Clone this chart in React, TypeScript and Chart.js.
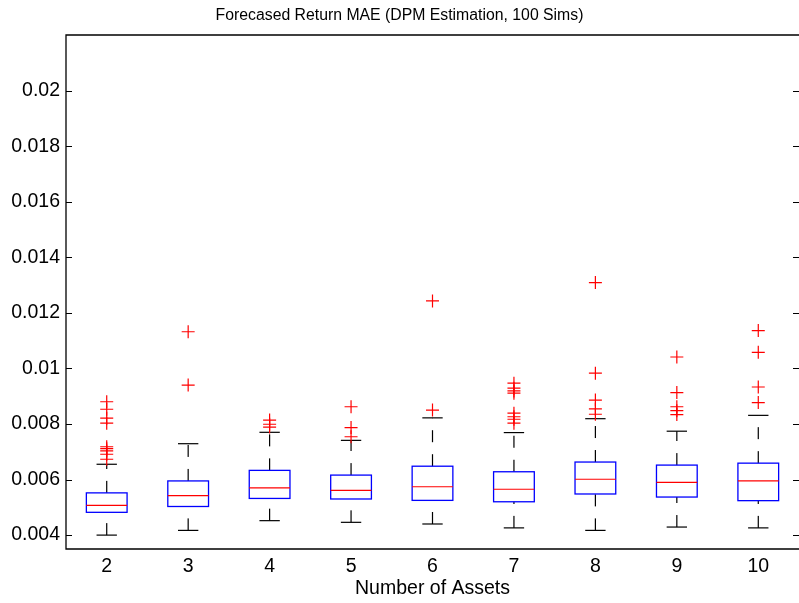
import { useEffect, useRef } from "react";
import { Chart, registerables } from "chart.js";

Chart.register(...registerables);

// Number of assets on the x axis
const assetCounts = [2, 3, 4, 5, 6, 7, 8, 9, 10];

// Box statistics of the forecasted-return MAE per asset count
const lowerWhisker = [0.004, 0.00417, 0.00452, 0.00446, 0.0044, 0.00426, 0.00417, 0.00429, 0.00426];
const q1 = [0.00482, 0.00503, 0.00532, 0.0053, 0.00525, 0.0052, 0.00548, 0.00537, 0.00524];
const medians = [0.00507, 0.00542, 0.0057, 0.00561, 0.00574, 0.00565, 0.00601, 0.0059, 0.00595];
const q3 = [0.00552, 0.00595, 0.00633, 0.00616, 0.00648, 0.00628, 0.00663, 0.00652, 0.00659];
const upperWhisker = [0.00655, 0.00729, 0.0077, 0.00741, 0.00822, 0.00769, 0.00819, 0.00774, 0.00831];

// Outlying simulations per asset count
const outliers = [
  [0.0088, 0.00853, 0.00821, 0.00803, 0.00718, 0.00711, 0.00703, 0.00691, 0.00673],
  [0.0094, 0.01132],
  [0.00814, 0.00799, 0.00789],
  [0.00862, 0.00787, 0.00754],
  [0.0085, 0.01243],
  [0.00947, 0.00929, 0.00919, 0.00911, 0.00839, 0.00826, 0.00817, 0.00803],
  [0.01309, 0.00983, 0.00886, 0.00854, 0.00835],
  [0.01041, 0.00913, 0.00862, 0.00848, 0.00834],
  [0.01136, 0.01058, 0.00933, 0.00877],
];

const yTickValues = [0.004, 0.006, 0.008, 0.01, 0.012, 0.014, 0.016, 0.018, 0.02];
const Y_MIN = 0.0035;
const Y_MAX = 0.022;

const FONT = "'Liberation Sans', Arial, Helvetica, sans-serif";

export default function App() {
  const canvasRef = useRef<HTMLCanvasElement>(null);

  useEffect(() => {
    const canvas = canvasRef.current;
    if (!canvas) return;

    const outlierPoints = outliers.flatMap((vals, i) =>
      vals.map((v) => ({ x: assetCounts[i], y: v }))
    );

    // Draws boxes, medians, dashed whiskers and caps from the scales
    const boxPlugin = {
      id: "boxWhisker",
      beforeDatasetsDraw(chart: any) {
        const ctx = chart.ctx as CanvasRenderingContext2D;
        const xs = chart.scales.x;
        const ys = chart.scales.y;
        const py = (v: number) => ys.getPixelForValue(v);
        const seg = (x1: number, y1: number, x2: number, y2: number) => {
          ctx.beginPath();
          ctx.moveTo(x1, y1);
          ctx.lineTo(x2, y2);
          ctx.stroke();
        };
        ctx.save();
        assetCounts.forEach((n, i) => {
          const xc = xs.getPixelForValue(n);
          const half = xs.getPixelForValue(n + 0.25) - xc;
          const capHalf = xs.getPixelForValue(n + 0.125) - xc;

          ctx.strokeStyle = "#000";
          ctx.lineWidth = 1.2;
          ctx.setLineDash([12, 12]);
          seg(xc, py(q3[i]), xc, py(upperWhisker[i]));
          seg(xc, py(lowerWhisker[i]), xc, py(q1[i]));
          ctx.setLineDash([]);
          seg(xc - capHalf, py(upperWhisker[i]), xc + capHalf, py(upperWhisker[i]));
          seg(xc - capHalf, py(lowerWhisker[i]), xc + capHalf, py(lowerWhisker[i]));

          ctx.strokeStyle = "#0000ff";
          ctx.lineWidth = 1.3;
          const top = py(q3[i]);
          const bottom = py(q1[i]);
          ctx.strokeRect(xc - half, top, half * 2, bottom - top);

          ctx.strokeStyle = "#ff0000";
          ctx.lineWidth = 1.2;
          seg(xc - half, py(medians[i]), xc + half, py(medians[i]));
        });
        ctx.restore();
      },
      afterDraw(chart: any) {
        const ctx = chart.ctx as CanvasRenderingContext2D;
        const { left, right, top, bottom } = chart.chartArea;
        const ys = chart.scales.y;
        ctx.save();
        ctx.strokeStyle = "#000";
        ctx.lineWidth = 1.3;
        ctx.beginPath();
        ctx.moveTo(right + 1, top);
        ctx.lineTo(left, top);
        ctx.lineTo(left, bottom);
        ctx.lineTo(right + 1, bottom);
        ctx.stroke();
        ctx.lineWidth = 1;
        yTickValues.forEach((v) => {
          const y = Math.round(ys.getPixelForValue(v)) + 0.5;
          ctx.beginPath();
          ctx.moveTo(left, y);
          ctx.lineTo(left + 6, y);
          ctx.moveTo(right + 1, y);
          ctx.lineTo(right - 6, y);
          ctx.stroke();
        });
        ctx.restore();
      },
    };

    const chart = new Chart(canvas, {
      type: "scatter",
      data: {
        datasets: [
          {
            label: "Outliers",
            data: outlierPoints,
            pointStyle: "cross",
            pointRadius: 6.5,
            pointHoverRadius: 6.5,
            borderColor: "#ff0000",
            backgroundColor: "#ff0000",
            borderWidth: 1.2,
          },
        ],
      },
      options: {
        animation: false,
        responsive: false,
        events: [],
        layout: { autoPadding: false, padding: { left: 0, top: 0, right: 0, bottom: 0 } },
        plugins: {
          legend: { display: false },
          tooltip: { enabled: false },
          title: {
            display: true,
            text: "Forecased Return MAE (DPM Estimation, 100 Sims)",
            color: "#000",
            font: { family: FONT, size: 15.8, weight: "normal" },
            padding: { top: 6, bottom: 10.04 },
          },
        },
        scales: {
          x: {
            type: "linear",
            min: 1.5,
            max: 10.5,
            afterBuildTicks: (s: any) => {
              s.ticks = assetCounts.map((v) => ({ value: v }));
            },
            afterFit: (s: any) => {
              s.height = 54;
              s.paddingLeft = 0;
              s.paddingRight = 0;
            },
            grid: { display: false, drawTicks: false },
            border: { display: false },
            ticks: {
              color: "#000",
              font: { family: FONT, size: 19.5 },
              padding: 5.5,
              autoSkip: false,
              maxRotation: 0,
              callback: (v: any) => String(v),
            },
            title: {
              display: true,
              text: "Number of Assets",
              color: "#000",
              font: { family: FONT, size: 19.5 },
              padding: { top: 0, bottom: 2.5 },
            },
          },
          y: {
            type: "linear",
            min: Y_MIN,
            max: Y_MAX,
            afterBuildTicks: (s: any) => {
              s.ticks = yTickValues.map((v) => ({ value: v }));
            },
            afterFit: (s: any) => {
              s.width = 66;
              s.paddingTop = 0;
              s.paddingBottom = 0;
            },
            grid: { display: false, drawTicks: false },
            border: { display: false },
            ticks: {
              color: "#000",
              font: { family: FONT, size: 19.5 },
              padding: 6,
              autoSkip: false,
              callback: (v: any) => String(Number(Number(v).toFixed(4))),
            },
          },
        },
      },
      plugins: [boxPlugin],
    });

    return () => chart.destroy();
  }, []);

  return (
    <div style={{ position: "absolute", left: 0, top: 0, width: 799, height: 603, background: "#fff" }}>
      <canvas ref={canvasRef} width={799} height={603} style={{ display: "block" }} />
    </div>
  );
}
